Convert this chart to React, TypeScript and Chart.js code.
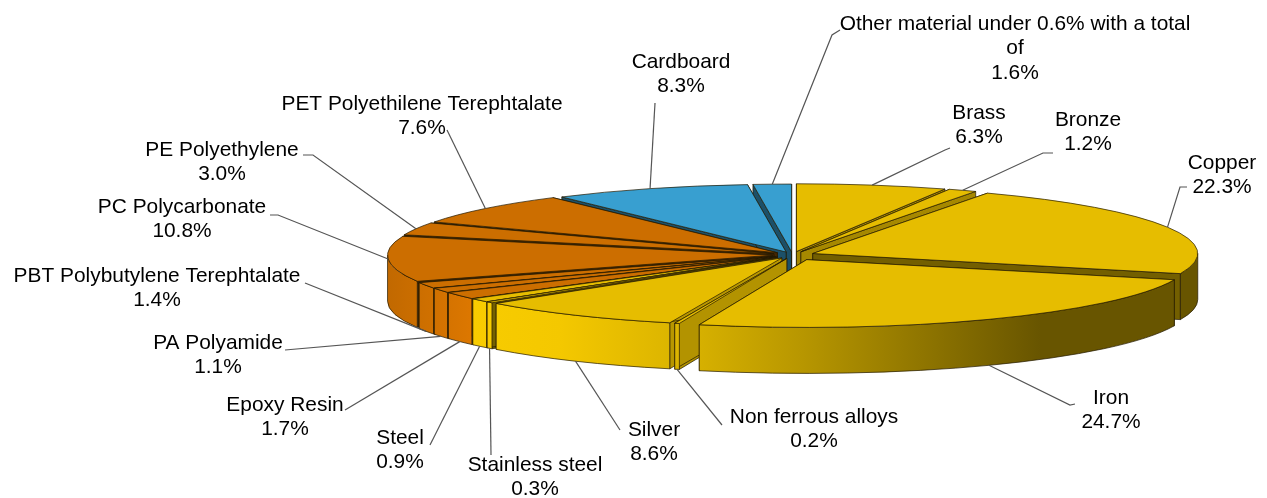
import React, { useEffect, useRef } from "react";
import { Chart, registerables } from "chart.js";

Chart.register(...registerables);

const categories = [
  "Brass", "Bronze", "Copper", "Iron", "Non ferrous alloys", "Silver", "Stainless steel", "Steel",
  "Epoxy Resin", "PA Polyamide", "PBT Polybutylene Terephtalate", "PC Polycarbonate", "PE Polyethylene",
  "PET Polyethilene Terephtalate", "Cardboard", "Other material under 0.6% with a total of",
];
const shares = [6.3, 1.2, 22.3, 24.7, 0.2, 8.6, 0.3, 0.9, 1.7, 1.1, 1.4, 10.8, 3.0, 7.6, 8.3, 1.6];
const explode = [20, 20, 22, 30, 20, 20, 20, 20, 20, 20, 20, 20, 20, 20, 18, 18];
const groups = [0, 0, 0, 0, 0, 0, 0, 0, 1, 1, 1, 1, 1, 1, 2, 2];

const GOLD = [230, 189, 0];
const ORANGE = [204, 110, 0];
const BLUE = [56, 159, 208];
const groupColors = [GOLD, ORANGE, BLUE];
const sideShade = [0.72, 0.72, 0.5, 0.72, 0.78, 0.8, 0.5, 0.72, 0.35, 0.35, 0.35, 0.35, 0.35, 0.35, 0.5, 0.5];

// Layout of the labels: line centres, and the elbow where each leader leaves its label.
const labelLines: string[][] = [
  ["Brass"], ["Bronze"], ["Copper"], ["Iron"], ["Non ferrous alloys"], ["Silver"], ["Stainless steel"], ["Steel"],
  ["Epoxy Resin"], ["PA Polyamide"], ["PBT Polybutylene Terephtalate"], ["PC Polycarbonate"], ["PE Polyethylene"],
  ["PET Polyethilene Terephtalate"], ["Cardboard"], ["Other material under 0.6% with a total", "of"],
];
const labelCenterX = [979, 1088, 1222, 1111, 814, 654, 535, 400, 285, 218, 157, 182, 222, 422, 681, 1015];
const labelTopY = [113, 120, 163, 398, 417, 430, 465, 438, 405, 343, 276, 207, 150, 104, 62, 24];
const leaderStart: number[][][] = [
  [[950, 148], [945, 150]],
  [[1053, 153], [1043, 153]],
  [[1187, 187], [1180, 187]],
  [[1075, 404], [1070, 405]],
  [[722, 425]],
  [[620, 430]],
  [[491, 455]],
  [[430, 445]],
  [[345, 410]],
  [[285, 350]],
  [[305, 283]],
  [[270, 215], [278, 215]],
  [[303, 155], [313, 155]],
  [[447, 130]],
  [[655, 103]],
  [[840, 30], [832, 35]],
];

const CENTER_X = 792.5;
const CENTER_Y = 255;
const RADIUS = 385;
const SQUASH = 0.176;
const DEPTH = 46;
const LINE_HEIGHT = 24.6;
const FONT = '20.9px "Liberation Sans", Arial, sans-serif';

const shadeStops = [
  [389, 0.95], [470, 1.08], [560, 1.06], [700, 0.93], [800, 0.8], [1040, 0.45], [1200, 0.45],
];

const rgb = (c: number[], f = 1) =>
  `rgb(${Math.min(255, Math.round(c[0] * f))},${Math.min(255, Math.round(c[1] * f))},${Math.min(255, Math.round(c[2] * f))})`;

const piePlugin = {
  id: "pie3d",
  beforeDatasetDraw(chart: any, args: any) {
    const ctx: CanvasRenderingContext2D = chart.ctx;
    const arcs: any[] = args.meta.data;
    const geo = arcs.map((el, i) => {
      const p = el.getProps(["startAngle", "endAngle", "x", "y", "outerRadius"], true);
      const mid = (p.startAngle + p.endAngle) / 2;
      const tx = CENTER_X + Math.cos(mid) * explode[i];
      const ty = CENTER_Y + Math.sin(mid) * explode[i] * SQUASH;
      return { el, i, mid, a0: p.startAngle, a1: p.endAngle, r: p.outerRadius, tx, ty, ox: p.x, oy: p.y };
    });
    const ry = (r: number) => r * SQUASH;
    const edgeLine = "rgba(35,25,0,0.7)";
    // Back to front; a slice pulled further out sits nearer the viewer.
    const near = (g: any) => Math.sin(g.mid) + explode[g.i] * 0.01;
    const order = [...geo].sort((a, b) => near(a) - near(b));

    order.forEach((g) => {
      const base = groupColors[groups[g.i]];
      const px = (a: number) => g.tx + Math.cos(a) * g.r;
      const py = (a: number) => g.ty + Math.sin(a) * ry(g.r);

      // radial faces
      [g.a0, g.a1].forEach((a) => {
        ctx.beginPath();
        ctx.moveTo(g.tx, g.ty);
        ctx.lineTo(px(a), py(a));
        ctx.lineTo(px(a), py(a) + DEPTH);
        ctx.lineTo(g.tx, g.ty + DEPTH);
        ctx.closePath();
        ctx.fillStyle = rgb(base, sideShade[g.i]);
        ctx.fill();
        ctx.lineWidth = 1;
        ctx.strokeStyle = edgeLine;
        ctx.stroke();
      });

      // outer rim, only its front part can be seen
      const v0 = Math.max(g.a0, 0);
      const v1 = Math.min(g.a1, Math.PI);
      if (v0 < v1) {
        const grad = ctx.createLinearGradient(389, 0, 1200, 0);
        shadeStops.forEach(([x, f]) => grad.addColorStop((x - 389) / (1200 - 389), rgb(base, f)));
        ctx.beginPath();
        ctx.ellipse(g.tx, g.ty, g.r, ry(g.r), 0, v0, v1);
        ctx.ellipse(g.tx, g.ty + DEPTH, g.r, ry(g.r), 0, v1, v0, true);
        ctx.closePath();
        ctx.fillStyle = grad;
        ctx.fill();
        ctx.lineWidth = 1;
        ctx.strokeStyle = edgeLine;
        ctx.stroke();
      }

      // top face: the library's own arc, squashed and moved out from the centre
      ctx.save();
      ctx.translate(g.tx, g.ty);
      ctx.scale(1, SQUASH);
      ctx.translate(-g.ox, -g.oy);
      g.el.draw(ctx);
      ctx.restore();

      ctx.beginPath();
      ctx.moveTo(g.tx, g.ty);
      ctx.ellipse(g.tx, g.ty, g.r, ry(g.r), 0, g.a0, g.a1);
      ctx.closePath();
      ctx.lineWidth = 1;
      ctx.strokeStyle = edgeLine;
      ctx.stroke();
    });

    // leaders
    ctx.save();
    ctx.strokeStyle = "#555555";
    ctx.lineWidth = 1.2;
    geo.forEach((g) => {
      const s = Math.sin(g.mid);
      const x = g.tx + Math.cos(g.mid) * g.r;
      const y = g.ty + s * ry(g.r) + (s > 0.1 ? DEPTH : 0);
      ctx.beginPath();
      leaderStart[g.i].forEach(([lx, ly], k) => (k === 0 ? ctx.moveTo(lx, ly) : ctx.lineTo(lx, ly)));
      ctx.lineTo(x, y);
      ctx.stroke();
    });
    ctx.restore();

    // labels
    ctx.save();
    ctx.font = FONT;
    ctx.fillStyle = "#000000";
    ctx.textAlign = "center";
    ctx.textBaseline = "middle";
    geo.forEach((g) => {
      const lines = [...labelLines[g.i], `${shares[g.i].toFixed(1)}%`];
      lines.forEach((t, k) => ctx.fillText(t, labelCenterX[g.i], labelTopY[g.i] + k * LINE_HEIGHT));
    });
    ctx.restore();
    return false;
  },
};

export default function App() {
  const ref = useRef<HTMLCanvasElement>(null);
  useEffect(() => {
    const chart = new Chart(ref.current as HTMLCanvasElement, {
      type: "pie",
      data: {
        labels: categories,
        datasets: [
          {
            data: shares,
            radius: RADIUS,
            borderWidth: 0,
            backgroundColor: groups.map((g) => rgb(groupColors[g])),
          } as any,
        ],
      },
      options: {
        responsive: false,
        animation: false,
        plugins: { legend: { display: false }, tooltip: { enabled: false } },
      },
      plugins: [piePlugin as any],
    });
    return () => chart.destroy();
  }, []);
  return (
    <div style={{ position: "fixed", left: 0, top: 0, width: 1267, height: 498, background: "#fff" }}>
      <canvas ref={ref} width={1267} height={498} style={{ display: "block" }} />
    </div>
  );
}
